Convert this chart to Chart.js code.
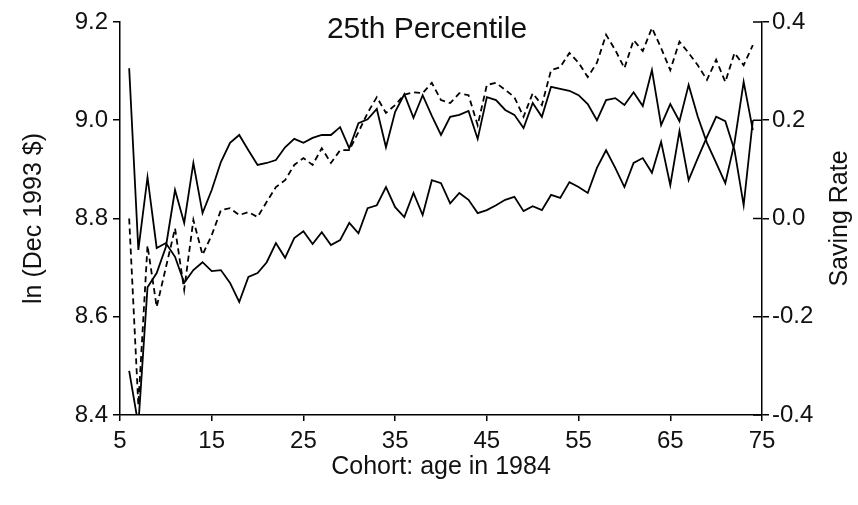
<!DOCTYPE html>
<html>
<head>
<meta charset="utf-8">
<script src="https://cdn.jsdelivr.net/npm/chart.js@4.4.0/dist/chart.umd.min.js"></script>
<style>
  html, body { margin: 0; padding: 0; background: #fff; }
  #wrap { width: 858px; height: 505px; }
</style>
</head>
<body>
<div id="wrap"><canvas id="chart" width="858" height="505"></canvas></div>
<script>
// cohort age in 1984
const ages = [6, 7, 8, 9, 10, 11, 12, 13, 14, 15, 16, 17, 18, 19, 20, 21, 22, 23, 24, 25,
  26, 27, 28, 29, 30, 31, 32, 33, 34, 35, 36, 37, 38, 39, 40, 41, 42, 43, 44, 45,
  46, 47, 48, 49, 50, 51, 52, 53, 54, 55, 56, 57, 58, 59, 60, 61, 62, 63, 64, 65,
  66, 67, 68, 69, 70, 71, 72, 73, 74];

// ln income (dashed, left axis)
const lnIncome = [8.80, 8.42, 8.745, 8.62, 8.70, 8.78, 8.655, 8.797, 8.726, 8.766,
  8.817, 8.821, 8.807, 8.813, 8.803, 8.834, 8.864, 8.878, 8.909, 8.923,
  8.909, 8.943, 8.913, 8.939, 8.939, 8.976, 9.015, 9.047, 9.015, 9.031,
  9.052, 9.057, 9.055, 9.076, 9.041, 9.035, 9.055, 9.051, 8.99, 9.072,
  9.076, 9.062, 9.047, 9.007, 9.055, 9.031, 9.102, 9.108, 9.137, 9.117,
  9.088, 9.117, 9.174, 9.143, 9.106, 9.163, 9.141, 9.188, 9.147, 9.102,
  9.160, 9.137, 9.112, 9.082, 9.123, 9.078, 9.137, 9.112, 9.153];

// ln consumption (solid, left axis)
const lnConsumption = [8.49, 8.38, 8.66, 8.689, 8.742, 8.858, 8.791, 8.913, 8.811, 8.858,
  8.915, 8.954, 8.97, 8.939, 8.909, 8.913, 8.919, 8.945, 8.962, 8.954,
  8.964, 8.97, 8.97, 8.986, 8.943, 8.994, 9.002, 9.023, 8.945, 9.017,
  9.053, 9.005, 9.051, 9.009, 8.97, 9.007, 9.011, 9.019, 8.962, 9.047,
  9.041, 9.021, 9.011, 8.984, 9.035, 9.007, 9.068, 9.064, 9.06, 9.051,
  9.033, 9.0, 9.041, 9.045, 9.031, 9.057, 9.029, 9.102, 8.99, 9.033,
  8.998, 9.072, 9.007, 8.954, 8.913, 8.872, 8.954, 9.078, 8.98];

// saving rate (solid, right axis)
const savingRate = [0.306, -0.064, 0.084, -0.06, -0.05, -0.078, -0.131, -0.105, -0.089, -0.107,
  -0.105, -0.131, -0.17, -0.119, -0.111, -0.089, -0.05, -0.08, -0.04, -0.026,
  -0.052, -0.028, -0.054, -0.044, -0.009, -0.03, 0.021, 0.027, 0.064, 0.023,
  0.003, 0.052, 0.007, 0.078, 0.072, 0.031, 0.052, 0.038, 0.011, 0.017,
  0.027, 0.038, 0.044, 0.015, 0.025, 0.017, 0.048, 0.042, 0.074, 0.064,
  0.052, 0.103, 0.139, 0.103, 0.064, 0.113, 0.123, 0.093, 0.156, 0.068,
  0.178, 0.078, 0.123, 0.166, 0.207, 0.198, 0.139, 0.027, 0.2];

const xTicks = [5, 15, 25, 35, 45, 55, 65, 75];
const chartTitle = "25th Percentile";
const xTitle = "Cohort: age in 1984";
const leftTitle = "ln (Dec 1993 $)";
const rightTitle = "Saving Rate";

const FONT = '"Liberation Sans", Arial, sans-serif';
const INK = "#111";

const toPoints = (vals) => ages.map((a, i) => ({ x: a, y: vals[i] }));

// title, right axis title, and the inner half of the right-axis ticks
const extras = {
  id: "extras",
  afterDraw(chart) {
    const { ctx, chartArea } = chart;
    const r = chart.scales.y1;
    ctx.save();
    ctx.strokeStyle = "#000";
    ctx.lineWidth = 1.5;
    r.ticks.forEach((t) => {
      const y = r.getPixelForValue(t.value);
      ctx.beginPath();
      ctx.moveTo(chartArea.right - 9, y);
      ctx.lineTo(chartArea.right, y);
      ctx.stroke();
    });
    ctx.fillStyle = INK;
    ctx.font = "30px " + FONT;
    ctx.textAlign = "center";
    ctx.textBaseline = "alphabetic";
    ctx.fillText(chartTitle, 427, 38);
    ctx.translate(840, (chartArea.top + chartArea.bottom) / 2);
    ctx.rotate(-Math.PI / 2);
    ctx.font = "25px " + FONT;
    ctx.textBaseline = "middle";
    ctx.fillText(rightTitle, 0, 0);
    ctx.restore();
  },
};

const lineBase = {
  borderColor: "#000",
  borderWidth: 1.8,
  pointRadius: 0,
  tension: 0,
  fill: false,
};

new Chart(document.getElementById("chart"), {
  type: "line",
  data: {
    datasets: [
      { ...lineBase, label: "ln income", data: toPoints(lnIncome), yAxisID: "y", borderDash: [6, 4] },
      { ...lineBase, label: "ln consumption", data: toPoints(lnConsumption), yAxisID: "y" },
      { ...lineBase, label: "Saving rate", data: toPoints(savingRate), yAxisID: "y1" },
    ],
  },
  options: {
    responsive: false,
    animation: false,
    devicePixelRatio: 1,
    layout: { padding: { top: 22, left: 0, right: 0, bottom: 0 } },
    plugins: { legend: { display: false }, tooltip: { enabled: false }, title: { display: false } },
    scales: {
      x: {
        type: "linear",
        min: 5,
        max: 75,
        afterBuildTicks: (s) => { s.ticks = xTicks.map((v) => ({ value: v })); },
        afterFit: (s) => { s.height = 90; },
        ticks: { color: INK, font: { family: FONT, size: 24 }, padding: 6, maxRotation: 0 },
        grid: { drawOnChartArea: false, color: "#000", tickLength: 6, lineWidth: 1.5 },
        border: { color: "#000", width: 1.5 },
        title: { display: true, text: xTitle, color: INK, font: { family: FONT, size: 25 }, padding: { top: 0, bottom: 23 } },
      },
      y: {
        position: "left",
        min: 8.4,
        max: 9.2,
        afterFit: (s) => { s.width = 120; },
        ticks: { stepSize: 0.2, color: INK, font: { family: FONT, size: 24 }, padding: 5, callback: (v) => Number(v).toFixed(1) },
        grid: { drawOnChartArea: false, color: "#000", tickLength: 7, lineWidth: 1.5 },
        border: { color: "#000", width: 1.5 },
        title: { display: true, text: leftTitle, color: INK, font: { family: FONT, size: 25 }, padding: { top: 19, bottom: 0 } },
      },
      y1: {
        position: "right",
        min: -0.4,
        max: 0.4,
        afterFit: (s) => { s.width = 96; },
        ticks: { stepSize: 0.2, color: INK, font: { family: FONT, size: 24 }, padding: 3, callback: (v) => Number(v).toFixed(1) },
        grid: { drawOnChartArea: false, color: "#000", tickLength: 7, lineWidth: 1.5 },
        border: { color: "#000", width: 1.5 },
      },
    },
  },
  plugins: [extras],
});
</script>
</body>
</html>
